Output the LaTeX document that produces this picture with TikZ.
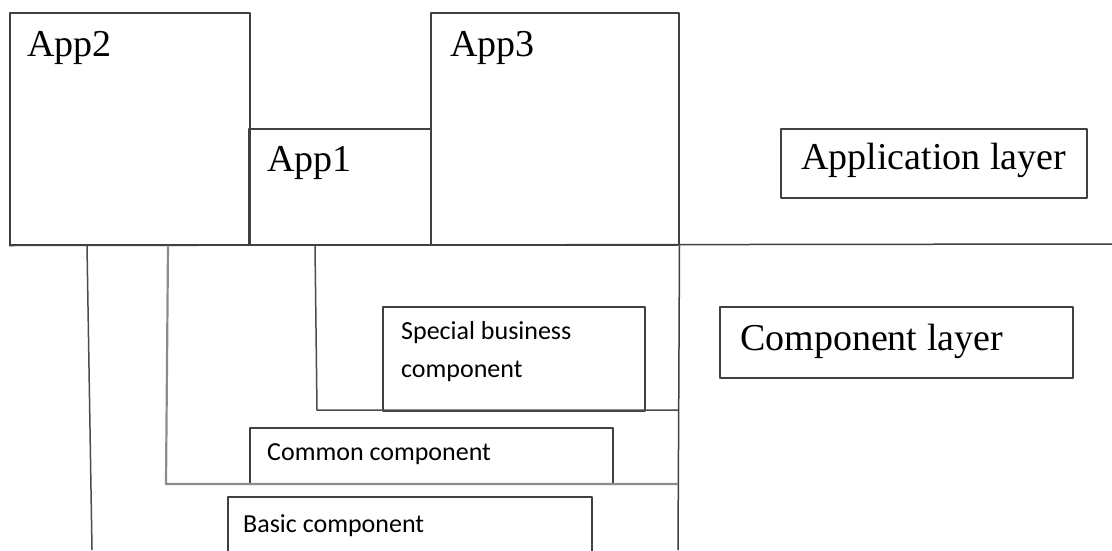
\documentclass[tikz,border=0pt]{standalone}
\usepackage{fontspec}
\setmainfont{Liberation Serif}
\newfontfamily\compfont{Carlito}
\usetikzlibrary{positioning}

\tikzset{
    box/.style={draw=black!75, line width=1.5pt, inner sep=0pt, anchor=north west},
    layertext/.style={inner sep=0pt, anchor=base west, font=\fontsize{38}{44}\selectfont},
    comptext/.style={inner sep=0pt, anchor=base west, font=\compfont\fontsize{26}{38}\selectfont},
    divider/.style={draw=black!75, line width=1.5pt},
    link/.style={draw=black!70, line width=1.5pt},
    thicklink/.style={draw=black!45, line width=2.2pt}
}

\begin{document}
\begin{tikzpicture}[x=1pt, y=-1pt, line join=round]
    \clip (0,0) rectangle (1112,550);
    \fill[white] (0,0) rectangle (1112,550);

    % application boxes
    \node[box, minimum width=240, minimum height=232] (app2) at (9,12) {};
    \node[box, minimum width=182, minimum height=116] (app1) at (248,128) {};
    \node[box, minimum width=248, minimum height=232] (app3) at (430,12) {};
    \node[layertext] (app2label) at ([shift={(18,44)}]app2.north west) {App2};
    \node[layertext] (app1label) at ([shift={(19,43)}]app1.north west) {App1};
    \node[layertext] (app3label) at ([shift={(20,44)}]app3.north west) {App3};

    % layer names
    \node[box, minimum width=306, minimum height=69] (applayer) at (780,128) {};
    \node[layertext] (applayerlabel) at ([shift={(21,41)}]applayer.north west) {Application layer};
    \node[box, minimum width=353, minimum height=71] (complayer) at (719,306) {};
    \node[layertext] (complayerlabel) at ([shift={(21,44)}]complayer.north west) {Component layer};

    % dividers
    \coordinate (divR) at (1112,244);
    \coordinate (sepB) at (678,550);
    \draw[divider] (app2.south west) -- (divR);
    \draw[divider] (app3.south east) -- (sepB);

    % component boxes
    \node[box, minimum width=262, minimum height=104] (special) at (382,306) {};
    \node[comptext] (speciallabel) at ([shift={(19,33)}]special.north west) {Special business};
    \node[comptext] (speciallabel2) at ([shift={(19,71)}]special.north west) {component};
    \node[box, minimum width=363, minimum height=56] (common) at (249,427) {};
    \node[comptext] (commonlabel) at ([shift={(18,33)}]common.north west) {Common component};
    \node[box, minimum width=364, minimum height=80] (basic) at (227,496) {};
    \node[comptext] (basiclabel) at ([shift={(16,36)}]basic.north west) {Basic component};

    % connectors
    \coordinate (app1out) at ([xshift=67]app1.south west);
    \coordinate (app1bend) at (317,410);
    \coordinate (app1end) at (678,410);
    \draw[link] (app1out) -- (app1bend) -- (app1end);
    \coordinate (app2outA) at ([xshift=159]app2.south west);
    \coordinate (app2bend) at (166,484);
    \coordinate (app2end) at (678,484);
    \draw[thicklink] (app2outA) -- (app2bend) -- (app2end);
    \coordinate (app2outB) at ([xshift=78]app2.south west);
    \coordinate (app2down) at (92,550);
    \draw[link] (app2outB) -- (app2down);
\end{tikzpicture}
\end{document}
